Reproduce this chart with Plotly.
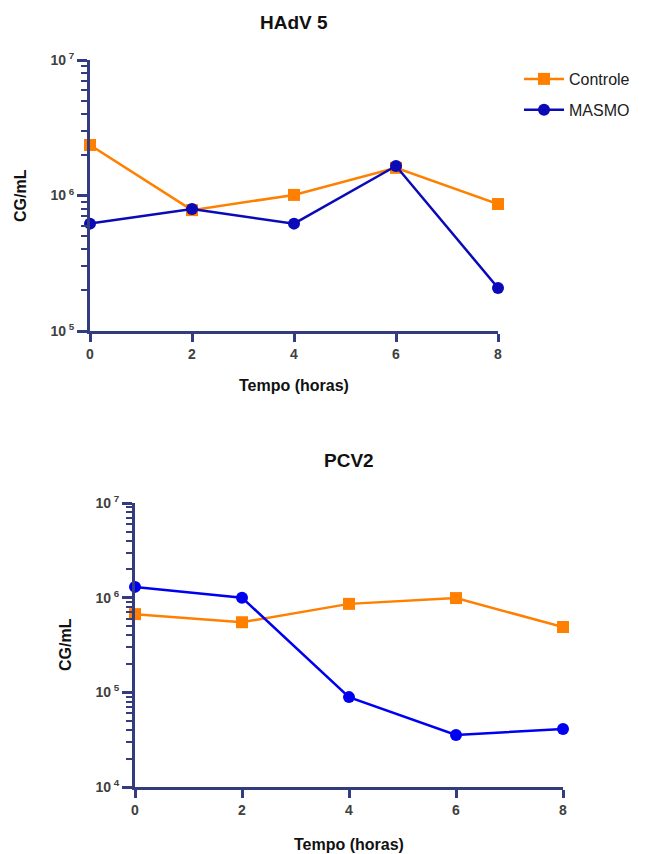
import plotly.graph_objects as go

tempo = [0, 2, 4, 6, 8]
hadv_controle = [2.36e6, 7.8e5, 1.01e6, 1.6e6, 8.65e5]
hadv_masmo = [6.2e5, 7.95e5, 6.2e5, 1.65e6, 2.08e5]
pcv_controle = [6.7e5, 5.5e5, 8.6e5, 9.9e5, 4.9e5]
pcv_masmo = [1.3e6, 1.0e6, 8.9e4, 3.55e4, 4.1e4]
x_ticks = [0, 2, 4, 6, 8]
x_ticktext = ["<b>0</b>", "<b>2</b>", "<b>4</b>", "<b>6</b>", "<b>8</b>"]
top_yticks = [1e5, 1e6, 1e7]
top_ytext = ["<b>10<sup> 5</sup></b>", "<b>10<sup> 6</sup></b>", "<b>10<sup> 7</sup></b>"]
bot_yticks = [1e4, 1e5, 1e6, 1e7]
bot_ytext = ["<b>10<sup> 4</sup></b>", "<b>10<sup> 5</sup></b>", "<b>10<sup> 6</sup></b>",
             "<b>10<sup> 7</sup></b>"]

ORANGE = "#FF8000"
BLUE_TOP = "#0A0AB8"
BLUE_BOT = "#0000F0"
AXIS = "#343C80"
TICKFONT = dict(family="Liberation Sans", size=14, color="#404040")

# page is drawn with an 8px body margin; figure coordinates are page - 8
W, H = 644, 846


def px(x):
    return (x - 8) / W


def py(y):
    return 1 - (y - 8) / H


fig = go.Figure()

fig.add_trace(go.Scatter(x=tempo, y=hadv_controle, name="Controle", mode="lines+markers",
                         legendgroup="c",
                         line=dict(color=ORANGE, width=2.5),
                         marker=dict(symbol="square", size=12, color=ORANGE),
                         cliponaxis=False, xaxis="x", yaxis="y"))
fig.add_trace(go.Scatter(x=tempo, y=hadv_masmo, name="MASMO", mode="lines+markers",
                         legendgroup="m",
                         line=dict(color=BLUE_TOP, width=2.5),
                         marker=dict(symbol="circle", size=12, color=BLUE_TOP),
                         cliponaxis=False, xaxis="x", yaxis="y"))
fig.add_trace(go.Scatter(x=tempo, y=pcv_controle, name="Controle", mode="lines+markers",
                         legendgroup="c",
                         line=dict(color=ORANGE, width=2.5),
                         marker=dict(symbol="square", size=12, color=ORANGE),
                         cliponaxis=False, showlegend=False, xaxis="x2", yaxis="y2"))
fig.add_trace(go.Scatter(x=tempo, y=pcv_masmo, name="MASMO", mode="lines+markers",
                         legendgroup="m",
                         line=dict(color=BLUE_BOT, width=2.5),
                         marker=dict(symbol="circle", size=12, color=BLUE_BOT),
                         cliponaxis=False, showlegend=False, xaxis="x2", yaxis="y2"))


def minor_vals(lo, hi):
    vals = []
    for e in range(lo, hi):
        for m in range(2, 10):
            vals.append(m * 10 ** e)
    return vals


xcommon = dict(range=[0, 8], tickvals=x_ticks, ticktext=x_ticktext, ticks="outside", ticklen=8,
               tickwidth=2.5, tickcolor=AXIS, showline=True, linecolor=AXIS, linewidth=3,
               showgrid=False, zeroline=False, tickfont=TICKFONT, automargin=False)
ycommon = dict(type="log", ticks="outside", ticklen=10, tickwidth=2.5, tickcolor=AXIS,
               showline=True, linecolor=AXIS, linewidth=3, showgrid=False, zeroline=False,
               tickfont=TICKFONT, automargin=False)

fig.update_layout(
    width=W, height=H,
    margin=dict(l=0, r=0, t=0, b=0, autoexpand=False),
    plot_bgcolor="white", paper_bgcolor="white",
    showlegend=True,
    legend=dict(x=px(519), y=py(62), xanchor="left", yanchor="top",
                font=dict(family="Liberation Sans", size=16, color="#202020"),
                tracegroupgap=7, itemwidth=40),
    xaxis=dict(domain=[px(90), px(498)], anchor="y", **xcommon),
    yaxis=dict(domain=[py(331), py(60)], anchor="x", range=[5, 7],
               tickvals=top_yticks, ticktext=top_ytext,
               minor=dict(tickvals=minor_vals(5, 7), ticks="outside", ticklen=6,
                          tickwidth=2, tickcolor=AXIS),
               **ycommon),
    xaxis2=dict(domain=[px(135), px(563)], anchor="y2", **xcommon),
    yaxis2=dict(domain=[py(787), py(503)], anchor="x2", range=[4, 7],
                tickvals=bot_yticks, ticktext=bot_ytext,
                minor=dict(tickvals=minor_vals(4, 7), ticks="outside", ticklen=6,
                           tickwidth=2, tickcolor=AXIS),
                **ycommon),
)

title_font = dict(family="Liberation Sans", size=19, color="#111111")
label_font = dict(family="Liberation Sans", size=16, color="#111111")
ann = dict(xref="paper", yref="paper", showarrow=False, xanchor="center", yanchor="middle")
fig.add_annotation(text="<b>HAdV 5</b>", x=px(294), y=py(22), font=title_font, **ann)
fig.add_annotation(text="<b>PCV2</b>", x=px(349), y=py(460), font=title_font, **ann)
fig.add_annotation(text="<b>Tempo (horas)</b>", x=px(294), y=py(385), font=label_font, **ann)
fig.add_annotation(text="<b>Tempo (horas)</b>", x=px(349), y=py(844), font=label_font, **ann)
fig.add_annotation(text="<b>CG/mL</b>", x=px(20), y=py(196), textangle=-90, font=label_font, **ann)
fig.add_annotation(text="<b>CG/mL</b>", x=px(65), y=py(645), textangle=-90, font=label_font, **ann)

fig.write_html("out.html")
